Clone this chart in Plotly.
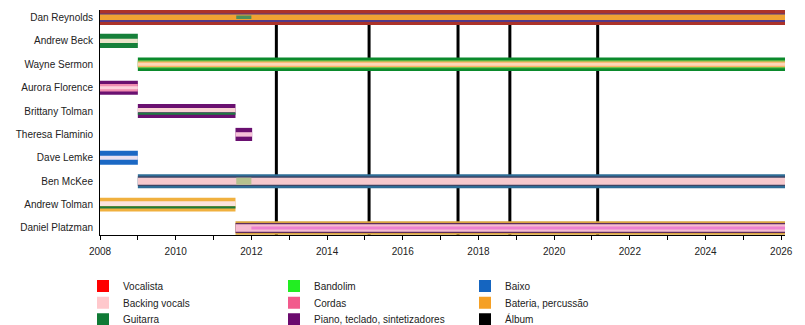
import plotly.graph_objects as go

# ---------------- data ----------------
members = ["Dan Reynolds", "Andrew Beck", "Wayne Sermon", "Aurora Florence",
           "Brittany Tolman", "Theresa Flaminio", "Dave Lemke", "Ben McKee",
           "Andrew Tolman", "Daniel Platzman"]

# role segments (drawn in this order, outer role first)
seg_member = ["Dan Reynolds", "Dan Reynolds", "Dan Reynolds", "Dan Reynolds",
              "Andrew Beck", "Andrew Beck",
              "Wayne Sermon", "Wayne Sermon", "Wayne Sermon", "Wayne Sermon",
              "Aurora Florence", "Aurora Florence", "Aurora Florence",
              "Brittany Tolman", "Brittany Tolman", "Brittany Tolman",
              "Theresa Flaminio", "Theresa Flaminio",
              "Dave Lemke", "Dave Lemke",
              "Ben McKee", "Ben McKee", "Ben McKee", "Ben McKee",
              "Andrew Tolman", "Andrew Tolman", "Andrew Tolman",
              "Daniel Platzman", "Daniel Platzman", "Daniel Platzman", "Daniel Platzman"]
seg_role = ["Vocalista", "Piano, teclado, sintetizadores", "Bateria, percussão", "Guitarra",
            "Guitarra", "Backing vocals",
            "Guitarra", "Bandolim", "Bateria, percussão", "Backing vocals",
            "Piano, teclado, sintetizadores", "Cordas", "Backing vocals",
            "Piano, teclado, sintetizadores", "Backing vocals", "Guitarra",
            "Piano, teclado, sintetizadores", "Backing vocals",
            "Baixo", "Backing vocals",
            "Baixo", "Piano, teclado, sintetizadores", "Backing vocals", "Guitarra",
            "Bateria, percussão", "Backing vocals", "Guitarra",
            "Bateria, percussão", "Piano, teclado, sintetizadores", "Backing vocals", "Cordas"]
seg_start = [2008.0, 2008.0, 2008.0, 2011.6,
             2008.0, 2008.0,
             2009.0, 2009.0, 2009.0, 2009.0,
             2008.0, 2008.0, 2008.0,
             2009.0, 2009.0, 2009.0,
             2011.58, 2011.58,
             2008.0, 2008.0,
             2009.0, 2009.0, 2009.0, 2011.6,
             2008.0, 2008.0, 2008.0,
             2011.58, 2011.58, 2011.58, 2012.0]
seg_end = [2026.1, 2026.1, 2026.1, 2012.0,
           2009.0, 2009.0,
           2026.1, 2026.1, 2026.1, 2026.1,
           2009.0, 2009.0, 2009.0,
           2011.58, 2011.58, 2011.58,
           2012.02, 2012.02,
           2009.0, 2009.0,
           2026.1, 2026.1, 2026.1, 2012.0,
           2011.58, 2011.58, 2011.58,
           2026.1, 2026.1, 2026.1, 2026.1]

album_dates = [2012.66, 2015.11, 2017.46, 2018.83, 2021.15]

legend_rows = [["Vocalista", "Bandolim", "Baixo"],
               ["Backing vocals", "Cordas", "Bateria, percussão"],
               ["Guitarra", "Piano, teclado, sintetizadores", "Álbum"]]

year_range = [2008, 2026.1]

# ---------------- style ----------------
LEGEND_COLOR = {
    "Vocalista": "#ff0000", "Backing vocals": "#ffc8cc", "Guitarra": "#0f7a35",
    "Bandolim": "#22ee22", "Cordas": "#f25a8c", "Piano, teclado, sintetizadores": "#6b0a6e",
    "Baixo": "#1565c0", "Bateria, percussão": "#f5a025", "Álbum": "#000000",
}
# (color, band height in row units, vertical shift in row units)
BAND = {
    ("Dan Reynolds", "Vocalista"): ("#ac3229", 0.64, 0.0),
    ("Dan Reynolds", "Piano, teclado, sintetizadores"): ("#523a88", 0.37, 0.01),
    ("Dan Reynolds", "Bateria, percussão"): ("#f0a232", 0.23, -0.01),
    ("Dan Reynolds", "Guitarra"): ("#4e8f5a", 0.15, -0.01),
    ("Andrew Beck", "Guitarra"): ("#16803a", 0.60, 0.0),
    ("Andrew Beck", "Backing vocals"): ("#e9e4c9", 0.19, 0.0),
    ("Wayne Sermon", "Guitarra"): ("#0b8a2c", 0.58, 0.0),
    ("Wayne Sermon", "Bandolim"): ("#6cc24a", 0.35, 0.0),
    ("Wayne Sermon", "Bateria, percussão"): ("#f7b266", 0.24, 0.0),
    ("Wayne Sermon", "Backing vocals"): ("#fdd6b8", 0.12, 0.0),
    ("Aurora Florence", "Piano, teclado, sintetizadores"): ("#6a1070", 0.60, 0.0),
    ("Aurora Florence", "Cordas"): ("#f08cb0", 0.32, 0.0),
    ("Aurora Florence", "Backing vocals"): ("#fcd2dc", 0.13, 0.0),
    ("Brittany Tolman", "Piano, teclado, sintetizadores"): ("#6a1070", 0.60, 0.0),
    ("Brittany Tolman", "Backing vocals"): ("#f8d2d2", 0.18, -0.035),
    ("Brittany Tolman", "Guitarra"): ("#1f7a42", 0.10, 0.11),
    ("Theresa Flaminio", "Piano, teclado, sintetizadores"): ("#6a1070", 0.56, 0.0),
    ("Theresa Flaminio", "Backing vocals"): ("#f6c2d8", 0.19, 0.0),
    ("Dave Lemke", "Baixo"): ("#1b68c4", 0.60, 0.0),
    ("Dave Lemke", "Backing vocals"): ("#e8e0f0", 0.17, 0.0),
    ("Ben McKee", "Baixo"): ("#2e6d96", 0.60, 0.0),
    ("Ben McKee", "Piano, teclado, sintetizadores"): ("#3c4666", 0.42, 0.0),
    ("Ben McKee", "Backing vocals"): ("#f6c9cd", 0.30, 0.0),
    ("Ben McKee", "Guitarra"): ("#b6c18e", 0.30, 0.0),
    ("Andrew Tolman", "Bateria, percussão"): ("#f0b03e", 0.58, 0.0),
    ("Andrew Tolman", "Backing vocals"): ("#fbe3dc", 0.20, -0.04),
    ("Andrew Tolman", "Guitarra"): ("#1f7a3a", 0.10, 0.12),
    ("Daniel Platzman", "Bateria, percussão"): ("#d9a441", 0.57, 0.0),
    ("Daniel Platzman", "Piano, teclado, sintetizadores"): ("#5e2c5c", 0.42, 0.0),
    ("Daniel Platzman", "Backing vocals"): ("#f6bcd2", 0.32, 0.0),
    ("Daniel Platzman", "Cordas"): ("#ee82cf", 0.13, 0.0),
}

FONT = dict(family="Liberation Sans, Arial, sans-serif", size=10, color="#222222")

fig = go.Figure()

# album lines (behind the bars, on the base axis)
ax, ay = [], []
for d in album_dates:
    ax += [d, d, None]
    ay += [0, 1, None]
fig.add_trace(go.Scatter(x=ax, y=ay, mode="lines", line=dict(color="black", width=3),
                         showlegend=False, hoverinfo="skip", yaxis="y"))

# member bands
for m, r, s, e in zip(seg_member, seg_role, seg_start, seg_end):
    color, h, sh = BAND[(m, r)]
    fig.add_trace(go.Bar(y=[m], x=[e - s], base=[s], orientation="h",
                         width=h, offset=sh - h / 2,
                         marker=dict(color=color, line=dict(width=0)),
                         showlegend=False, yaxis="y2", name=r))

# legend entries
legend_ids = ["legend", "legend2", "legend3"]
for lid, row in zip(legend_ids, legend_rows):
    for role in row:
        fig.add_trace(go.Bar(x=[None], y=[None], name=role, orientation="h",
                             marker=dict(color=LEGEND_COLOR[role], line=dict(width=0)),
                             legend=lid, showlegend=True, yaxis="y"))

row_centers = [281, 297.7, 314.3]
legend_layout = {}
for lid, yc in zip(legend_ids, row_centers):
    legend_layout[lid] = dict(orientation="h", xref="container", yref="container",
                              x=(103 - 20) / 805, xanchor="left",
                              y=1 - (yc - 9.5) / 325, yanchor="top",
                              entrywidth=146, entrywidthmode="pixels",
                              bgcolor="rgba(0,0,0,0)", borderwidth=0,
                              font=FONT, traceorder="normal")

fig.update_layout(
    width=805, height=325,
    margin=dict(l=100, r=20, t=10, b=90, autoexpand=False),
    barmode="overlay", plot_bgcolor="white", paper_bgcolor="white",
    font=FONT,
    xaxis=dict(range=year_range, tick0=2008, dtick=2, ticks="outside", ticklen=4,
               tickcolor="black", showline=True, linecolor="black", linewidth=1,
               showgrid=False, zeroline=False, anchor="y", ticklabelstandoff=3,
               minor=dict(dtick=1, ticks="outside", ticklen=4, tickcolor="black", showgrid=False)),
    yaxis=dict(range=[0, 1], visible=False, fixedrange=True),
    yaxis2=dict(overlaying="y", side="left", anchor="x", type="category",
                categoryorder="array", categoryarray=members, range=[9.3, -0.32],
                showline=True, linecolor="black", linewidth=1, showgrid=False,
                ticks="", ticklabelstandoff=4, zeroline=False),
    **legend_layout,
)

fig.write_html("out.html")
